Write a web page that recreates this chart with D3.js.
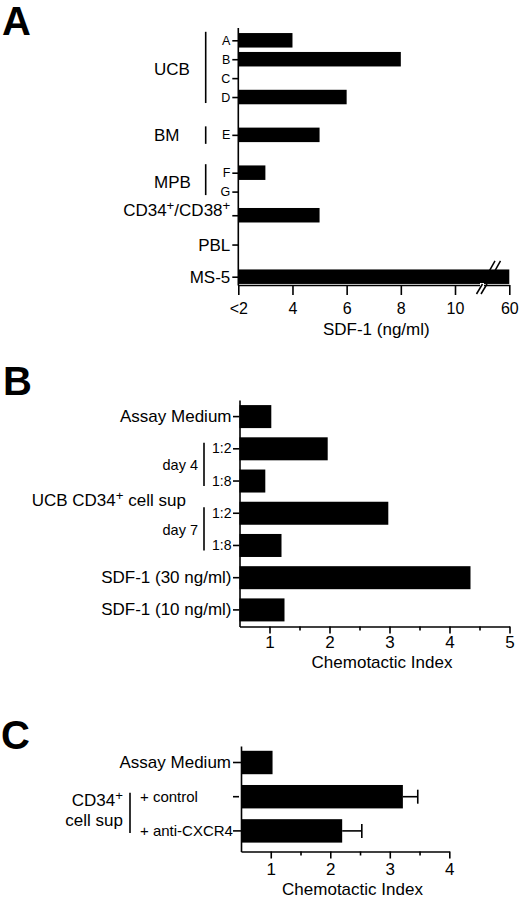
<!DOCTYPE html>
<html><head><meta charset="utf-8">
<script src="https://cdn.jsdelivr.net/npm/d3@7"></script>
<style>
body{margin:0;background:#fff}
svg{display:block}
text{font-family:"Liberation Sans",Arial,Helvetica,sans-serif;fill:#000}
.axis path,.axis line{stroke:#000;stroke-width:1.6}
</style>
</head><body><svg id="c" width="520" height="898"></svg>
<script>
// ---------- Panel A data ----------
const catsA = ["A","B","C","D","E","F","G","CD34+/CD38+","PBL","MS-5"];
const valsA = [4, 8, null, 6, 5, 3, null, 5, null, 60];   // null = below detection (<2)
const tickValsA = [2, 4, 6, 8, 10, 60];
const tickLabsA = ["<2","4","6","8","10","60"];
const groupsA = [
  {name:"UCB", first:"A", last:"D"},
  {name:"BM",  first:"E", last:"E"},
  {name:"MPB", first:"F", last:"G"}
];
// ---------- Panel B data ----------
const catsB = ["Assay Medium","d4 1:2","d4 1:8","d7 1:2","d7 1:8","SDF-1 (30 ng/ml)","SDF-1 (10 ng/ml)"];
const labsB = ["Assay Medium","1:2","1:8","1:2","1:8","SDF-1 (30 ng/ml)","SDF-1 (10 ng/ml)"];
const valsB = [1.03, 1.97, 0.93, 2.98, 1.2, 4.35, 1.25];
const ticksB = [1, 2, 3, 4, 5];
const minorB = [1.5, 2.5, 3.5, 4.5];
const groupsB = [
  {name:"day 4", first:"d4 1:2", last:"d4 1:8"},
  {name:"day 7", first:"d7 1:2", last:"d7 1:8"}
];
// ---------- Panel C data ----------
const catsC = ["Assay Medium","+ control","+ anti-CXCR4"];
const valsC = [1.03, 3.22, 2.2];
const errC  = [0, 0.25, 0.33];
const ticksC = [1, 2, 3, 4];
const minorC = [1.5, 2.5, 3.5];

// ---------- layout (not data) ----------
const slotA = [0, 1, 2, 3, 5, 7, 8, 9.25, 10.8, 12.5];

const svg = d3.select("#c");
svg.append("rect").attr("width",520).attr("height",898).attr("fill","#fff");

function supText(sel, str, size){
  // render '+' as superscript
  sel.text(null);
  const parts = str.split(/(\+)/).filter(s=>s.length);
  let up = false;
  const raise = size*0.33;
  parts.forEach(p=>{
    const t = sel.append("tspan");
    if(p==="+"){ t.attr("dy", up? 0 : -raise).attr("font-size", size*0.78).text("+"); up = true; }
    else { t.attr("dy", up? raise : 0).text(p); up = false; }
  });
}

// panel letters
[["A",2,35],["B",3,395],["C",1,749]].forEach(([l,x,y])=>{
  svg.append("text").attr("x",x).attr("y",y).attr("font-size",40).attr("font-weight","bold").text(l);
});

// ================= Panel A =================
(function(){
  const xA = d3.scaleLinear().domain([2,10,60]).range([238.3,455,509.3]);
  const slotY = d3.scaleLinear().domain([0,12.5]).range([40.3,276.7]);
  const yA = d3.scaleOrdinal(catsA, slotA.map(s=>slotY(s)));
  const bh = 14.5;
  const g = svg.append("g");
  const data = catsA.map((c,i)=>({c, v:valsA[i]}));
  g.selectAll("rect.bar").data(data.filter(d=>d.v!=null)).join("rect")
    .attr("x", xA(2)).attr("y", d=>yA(d.c)-bh/2)
    .attr("width", d=>xA(d.v)-xA(2)).attr("height", bh).attr("fill","#000");

  // left axis
  const la = g.append("g").attr("class","axis").attr("transform",`translate(${xA(2)},0)`)
    .call(d3.axisLeft(yA).tickSize(6).tickPadding(2).tickSizeOuter(0));
  la.select(".domain").remove();
  la.selectAll("text").each(function(d){
    const s = d3.select(this);
    const size = d.length===1 ? 12.5 : 17;
    s.attr("font-size", size).attr("fill","#000").attr("font-family",null);
    if(d.includes("+")) supText(s, d, size);
  });
  g.append("line").attr("x1",xA(2)).attr("x2",xA(2)).attr("y1",28).attr("y2",285.5)
    .attr("stroke","#000").attr("stroke-width",1.6);

  // bottom axis
  const ba = g.append("g").attr("class","axis").attr("transform","translate(0,285)")
    .call(d3.axisBottom(xA).tickValues(tickValsA).tickFormat((d,i)=>tickLabsA[i])
      .tickSize(10).tickPadding(8).tickSizeOuter(0));
  ba.selectAll("text").attr("font-size",16).attr("font-family",null);
  // axis break
  g.append("rect").attr("x",xA(10)+25).attr("y",283).attr("width",4).attr("height",4).attr("fill","#fff");
  [0,4.5].forEach(o=>{
    g.append("line").attr("x1",xA(10)+21.5+o).attr("y1",294).attr("x2",xA(10)+27.5+o).attr("y2",284)
      .attr("stroke","#000").attr("stroke-width",1.5);
  });
  // bar break marks on MS-5
  const yMS = yA("MS-5")-bh/2;
  [0,5.5].forEach(o=>{
    g.append("line").attr("x1",xA(10)+33+o).attr("y1",yMS+4).attr("x2",xA(10)+40+o).attr("y2",yMS-8.5)
      .attr("stroke","#000").attr("stroke-width",1.5);
  });
  g.append("text").attr("x",(xA(2)+xA(60))/2+2.5).attr("y",335).attr("text-anchor","middle")
    .attr("font-size",17).text("SDF-1 (ng/ml)");

  // groups
  groupsA.forEach(gr=>{
    const y0 = yA(gr.first), y1 = yA(gr.last);
    const pad0 = 8.5, pad1 = gr.first===gr.last ? 9 : (gr.name==="MPB"?3.5:6);
    g.append("line").attr("x1",205.7).attr("x2",205.7).attr("y1",y0-pad0).attr("y2",y1+pad1)
      .attr("stroke","#000").attr("stroke-width",1.6);
    g.append("text").attr("x",154).attr("y",(y0+y1)/2+6.3).attr("font-size",17).text(gr.name);
  });
})();

// ================= Panel B =================
(function(){
  const xB = d3.scaleLinear().domain([0.5,5]).range([239.5,509.5]);
  const yB = d3.scaleBand().domain(catsB).range([400,626.5]).paddingInner(0.286).paddingOuter(0.158);
  const g = svg.append("g");
  const data = catsB.map((c,i)=>({c, v:valsB[i], l:labsB[i]}));
  g.selectAll("rect").data(data).join("rect")
    .attr("x", xB(0.5)).attr("y", d=>yB(d.c)).attr("width", d=>xB(d.v)-xB(0.5))
    .attr("height", yB.bandwidth()).attr("fill","#000");

  const la = g.append("g").attr("class","axis").attr("transform",`translate(${xB(0.5)},0)`)
    .call(d3.axisLeft(yB).tickSize(6.5).tickPadding(1.5).tickSizeOuter(0)
      .tickFormat((d,i)=>labsB[i]));
  la.selectAll("text").each(function(d,i){
    const small = labsB[catsB.indexOf(d)].startsWith("1:");
    d3.select(this).attr("font-size", small?14:17).attr("font-family",null);
  });

  const ba = g.append("g").attr("class","axis").attr("transform","translate(0,626.5)")
    .call(d3.axisBottom(xB).tickValues(ticksB).tickFormat(d3.format("d")).tickSize(7).tickPadding(2.5).tickSizeOuter(0));
  ba.selectAll("text").attr("font-size",17).attr("font-family",null);
  const mi = g.append("g").attr("class","axis").attr("transform","translate(0,626.5)")
    .call(d3.axisBottom(xB).tickValues(minorB).tickFormat("").tickSize(4).tickSizeOuter(0));
  mi.select(".domain").remove();

  g.append("text").attr("x",382).attr("y",668).attr("text-anchor","middle").attr("font-size",17).text("Chemotactic Index");

  groupsB.forEach(gr=>{
    const y0 = yB(gr.first)+yB.bandwidth()/2, y1 = yB(gr.last)+yB.bandwidth()/2;
    g.append("line").attr("x1",204).attr("x2",204).attr("y1",y0-6).attr("y2",y1+5)
      .attr("stroke","#000").attr("stroke-width",1.6);
    g.append("text").attr("x",198).attr("y",(y0+y1)/2+5.5).attr("text-anchor","end").attr("font-size",14.5).text(gr.name);
  });
  const t = g.append("text").attr("x",31.7).attr("y",505.5).attr("font-size",17);
  supText(t, "UCB CD34+ cell sup", 17);
})();

// ================= Panel C =================
(function(){
  const xC = d3.scaleLinear().domain([0.5,4]).range([241,449.3]);
  const yC = d3.scaleBand().domain(catsC).range([746,851.5]).paddingInner(0.315).paddingOuter(0.2).align(0.35);
  const g = svg.append("g");
  const data = catsC.map((c,i)=>({c, v:valsC[i], e:errC[i]}));
  g.selectAll("rect").data(data).join("rect")
    .attr("x", xC(0.5)).attr("y", d=>yC(d.c)).attr("width", d=>xC(d.v)-xC(0.5))
    .attr("height", yC.bandwidth()).attr("fill","#000");
  // error bars
  const eb = data.filter(d=>d.e>0);
  const cy = d=>yC(d.c)+yC.bandwidth()/2;
  g.selectAll("line.err").data(eb).join("line").attr("class","err")
    .attr("x1", d=>xC(d.v)).attr("x2", d=>xC(d.v+d.e)).attr("y1",cy).attr("y2",cy)
    .attr("stroke","#000").attr("stroke-width",1.6);
  g.selectAll("line.cap").data(eb).join("line").attr("class","cap")
    .attr("x1", d=>xC(d.v+d.e)).attr("x2", d=>xC(d.v+d.e)).attr("y1",d=>cy(d)-7).attr("y2",d=>cy(d)+7)
    .attr("stroke","#000").attr("stroke-width",1.6);

  const la = g.append("g").attr("class","axis").attr("transform",`translate(${xC(0.5)},0)`)
    .call(d3.axisLeft(yC).tickSize(8).tickPadding(2).tickSizeOuter(0));
  la.selectAll("text").each(function(d){
    const s = d3.select(this).attr("font-family",null);
    if(d.startsWith("+")){
      s.attr("font-size",15).attr("text-anchor","start").attr("x", 140 - xC(0.5));
    } else s.attr("font-size",17);
  });
  // shorter tick for "+ control"
  la.selectAll(".tick").filter(d=>d==="+ control").select("line").attr("x1",-2);

  const ba = g.append("g").attr("class","axis").attr("transform","translate(0,851.5)")
    .call(d3.axisBottom(xC).tickValues(ticksC).tickFormat(d3.format("d")).tickSize(7).tickPadding(4).tickSizeOuter(0));
  ba.selectAll("text").attr("font-size",17).attr("font-family",null);
  const mi = g.append("g").attr("class","axis").attr("transform","translate(0,851.5)")
    .call(d3.axisBottom(xC).tickValues(minorC).tickFormat("").tickSize(4).tickSizeOuter(0));
  mi.select(".domain").remove();

  g.append("text").attr("x",352.5).attr("y",895).attr("text-anchor","middle").attr("font-size",17).text("Chemotactic Index");

  const y0 = cy({c:"+ control"}), y1 = cy({c:"+ anti-CXCR4"});
  g.append("line").attr("x1",130).attr("x2",130).attr("y1",y0-4).attr("y2",y1+2)
    .attr("stroke","#000").attr("stroke-width",1.6);
  const t1 = g.append("text").attr("x",123).attr("y",806).attr("text-anchor","end").attr("font-size",17);
  supText(t1, "CD34+", 17);
  g.append("text").attr("x",123).attr("y",826).attr("text-anchor","end").attr("font-size",17).text("cell sup");
})();
</script>
</body></html>
